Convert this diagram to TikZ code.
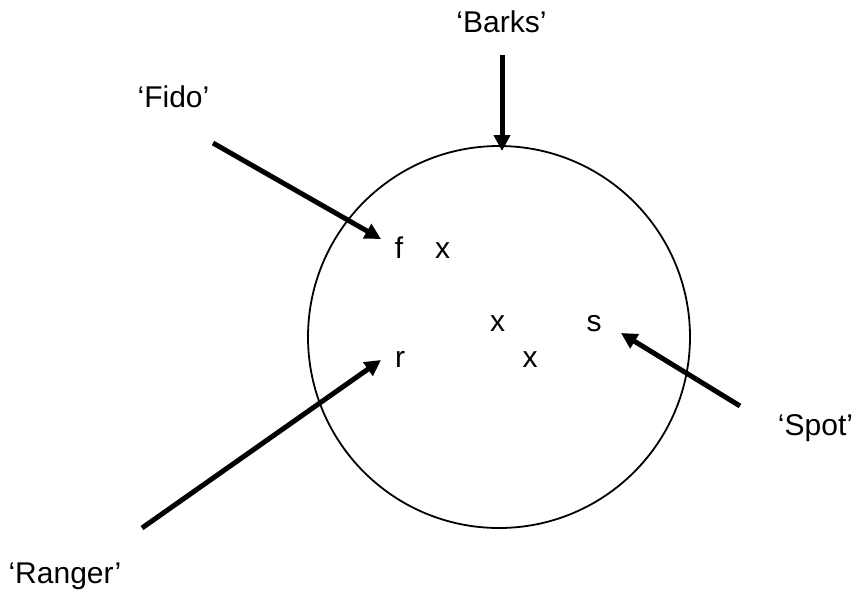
\documentclass[tikz,border=0pt]{standalone}
\usepackage{fontspec}
\setmainfont{Liberation Sans}
\usetikzlibrary{arrows.meta}
\tikzset{
  lbl/.style={inner sep=0pt, anchor=base, font=\fontsize{30}{36}\selectfont},
  ptr/.style={line width=5pt, -{Triangle[length=16pt,width=16pt]}},
  ring/.style={draw, line width=1.8pt}
}
\begin{document}
\begin{tikzpicture}[x=1pt,y=-1pt]
\useasboundingbox (0,0) rectangle (856,592);
\node[ring, circle, minimum size=382pt, inner sep=0pt] (dom) at (499,337) {};
% labels
\node[lbl] (barks) at (501.5,32) {‘Barks’};
\node[lbl] (fido) at (173.5,107) {‘Fido’};
\node[lbl] (spot) at (815.5,435) {‘Spot’};
\node[lbl] (ranger) at (65,583) {‘Ranger’};
% elements
\node[lbl] (f) at (399,258) {f};
\node[lbl] (x1) at (442.5,258) {x};
\node[lbl] (x2) at (497.5,331) {x};
\node[lbl] (s) at (594,331) {s};
\node[lbl] (r) at (400,367) {r};
\node[lbl] (x3) at (530,367) {x};
% arrow coordinates
\coordinate (bs) at (502,55);  \coordinate (be) at (502,151);
\coordinate (fs) at (213,143); \coordinate (fe) at (381,239);
\coordinate (ss) at (740,406); \coordinate (se) at (621,333);
\coordinate (rs) at (142,528); \coordinate (re) at (381,360);
\draw[ptr] (bs) -- (be);
\draw[ptr] (fs) -- (fe);
\draw[ptr] (ss) -- (se);
\draw[ptr] (rs) -- (re);
\end{tikzpicture}
\end{document}
